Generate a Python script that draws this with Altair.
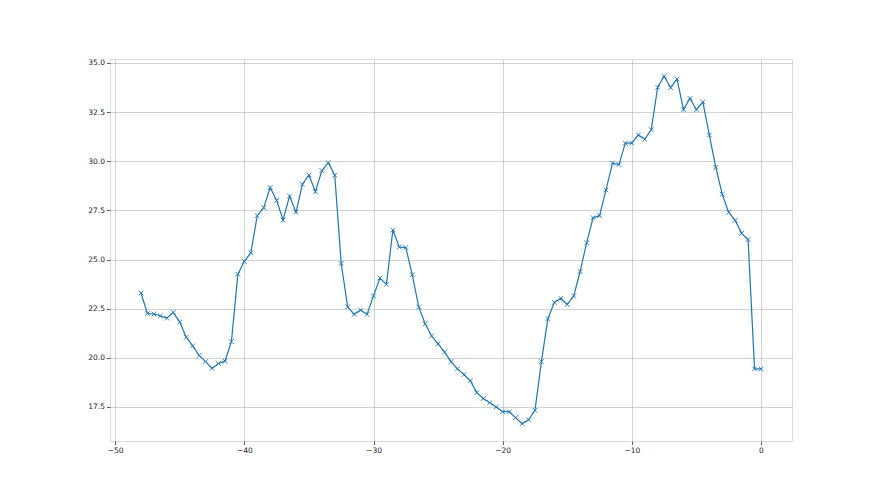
import altair as alt
import pandas as pd

x_vals = [-48, -47.5, -47, -46.5, -46, -45.5, -45, -44.5, -44, -43.5, -43, -42.5,
          -42, -41.5, -41, -40.5, -40, -39.5, -39, -38.5, -38, -37.5, -37, -36.5,
          -36, -35.5, -35, -34.5, -34, -33.5, -33, -32.5, -32, -31.5, -31, -30.5,
          -30, -29.5, -29, -28.5, -28, -27.5, -27, -26.5, -26, -25.5, -25, -24.5,
          -24, -23.5, -23, -22.5, -22, -21.5, -21, -20.5, -20, -19.5, -19, -18.5,
          -18, -17.5, -17, -16.5, -16, -15.5, -15, -14.5, -14, -13.5, -13, -12.5,
          -12, -11.5, -11, -10.5, -10, -9.5, -9, -8.5, -8, -7.5, -7, -6.5,
          -6, -5.5, -5, -4.5, -4, -3.5, -3, -2.5, -2, -1.5, -1, -0.5, 0]

y_vals = [23.30, 22.25, 22.23, 22.13, 22.02, 22.31, 21.82, 21.05, 20.61, 20.12, 19.81, 19.46,
          19.71, 19.83, 20.83, 24.25, 24.91, 25.34, 27.23, 27.64, 28.66, 28.01, 27.01, 28.23,
          27.41, 28.83, 29.30, 28.45, 29.52, 29.93, 29.29, 24.80, 22.60, 22.21, 22.43, 22.21,
          23.15, 24.06, 23.74, 26.50, 25.63, 25.61, 24.23, 22.59, 21.73, 21.11, 20.71, 20.29,
          19.81, 19.44, 19.15, 18.83, 18.23, 17.93, 17.72, 17.50, 17.26, 17.26, 16.96, 16.65,
          16.85, 17.33, 19.81, 21.99, 22.82, 23.03, 22.72, 23.15, 24.39, 25.85, 27.13, 27.23,
          28.54, 29.90, 29.83, 30.92, 30.92, 31.34, 31.12, 31.60, 33.76, 34.32, 33.74, 34.18,
          32.62, 33.20, 32.62, 33.01, 31.33, 29.69, 28.32, 27.40, 26.99, 26.33, 26.02, 19.44, 19.44]

x_ticks = [-50, -40, -30, -20, -10, 0]
y_ticks = [17.5, 20.0, 22.5, 25.0, 27.5, 30.0, 32.5, 35.0]

df = pd.DataFrame({"x": x_vals, "y": y_vals})

color = "#1f77b4"
xscale = alt.Scale(domain=[-50.4, 2.4], nice=False, zero=False)
yscale = alt.Scale(domain=[15.77, 35.2], nice=False, zero=False)

xaxis = alt.Axis(values=x_ticks, title=None, labelExpr="replace(datum.label, '-', '−')",
                 grid=True, gridColor="#b0b0b0", gridWidth=0.8, gridOpacity=0.7,
                 tickColor="#333333", tickSize=3.5, tickWidth=0.8,
                 labelFont="DejaVu Sans", labelFontSize=7.5, labelColor="#222222",
                 labelPadding=2, domain=False)
yaxis = alt.Axis(values=y_ticks, title=None, format=".1f",
                 grid=True, gridColor="#b0b0b0", gridWidth=0.8, gridOpacity=0.7,
                 tickColor="#333333", tickSize=3.5, tickWidth=0.8,
                 labelFont="DejaVu Sans", labelFontSize=7.5, labelColor="#222222",
                 labelPadding=2, domain=False)

base = alt.Chart(df)

line = base.mark_line(color=color, strokeWidth=1.2, clip=True).encode(
    x=alt.X("x:Q", scale=xscale, axis=xaxis),
    y=alt.Y("y:Q", scale=yscale, axis=yaxis),
)

points = base.mark_point(
    shape="M-1,-1L1,1M1,-1L-1,1", filled=False, stroke=color, strokeWidth=0.9,
    size=22, opacity=1, clip=True
).encode(
    x=alt.X("x:Q", scale=xscale),
    y=alt.Y("y:Q", scale=yscale),
)

chart = alt.layer(line, points).properties(
    width=682, height=382,
    autosize=alt.AutoSizeParams(type="none"),
    padding={"left": 102, "top": 51, "right": 80, "bottom": 46},
).configure_view(
    stroke="#333333", strokeWidth=1
).configure(background="white")

chart.save("out.html", embed_options={"renderer": "svg", "actions": False})
